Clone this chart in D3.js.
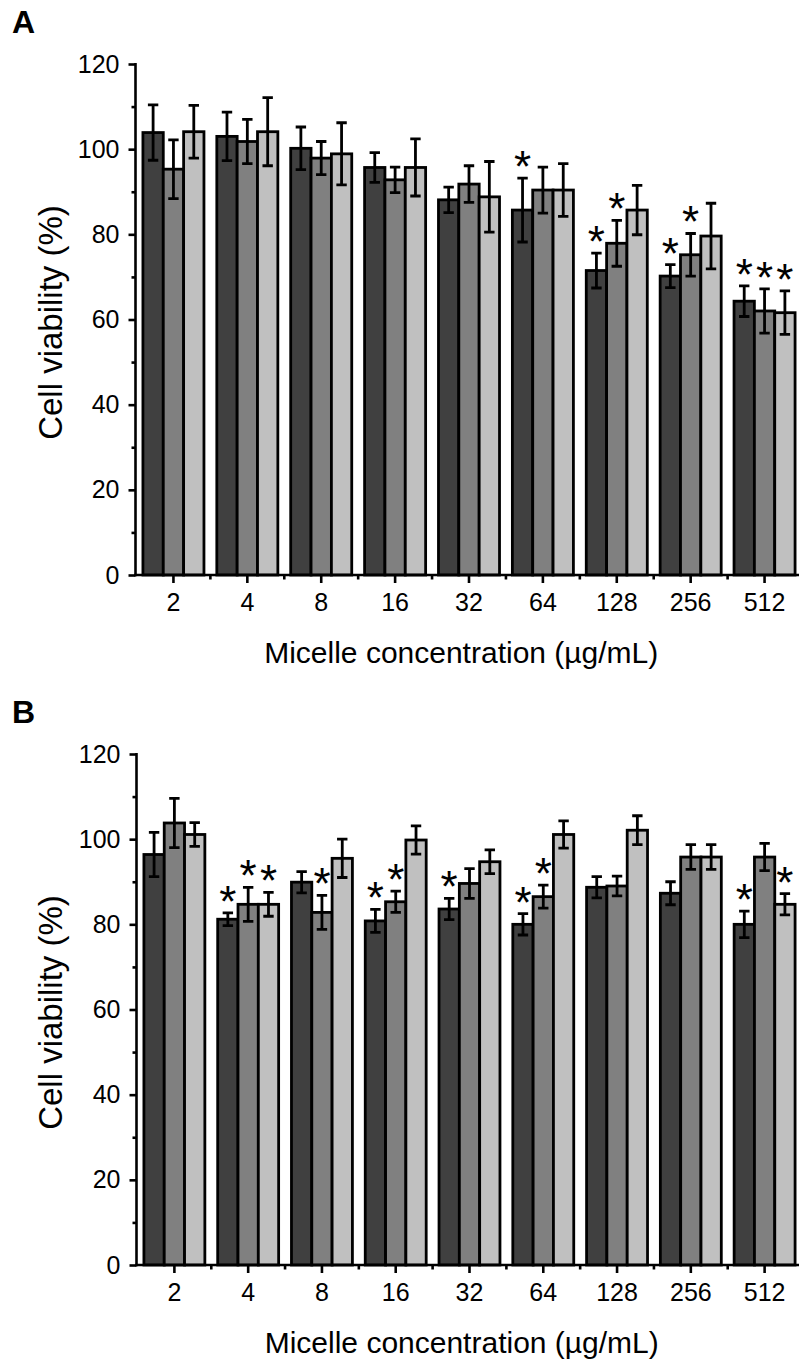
<!DOCTYPE html>
<html>
<head>
<meta charset="utf-8">
<script src="https://cdn.jsdelivr.net/npm/d3@7"></script>
<style>
  html, body { margin: 0; padding: 0; background: #fff; }
  svg { display: block; }
  text { font-family: "Liberation Sans", Arial, Helvetica, sans-serif; fill: #000; }
</style>
</head>
<body>
<svg id="chart" width="799" height="1364"></svg>
<script>
// Micelle concentrations (µg/mL) on the x axis
const categories = ["2", "4", "8", "16", "32", "64", "128", "256", "512"];
const seriesKeys = ["s1", "s2", "s3"];
const seriesColors = ["#404040", "#808080", "#c0c0c0"];
const yTicks = [0, 20, 40, 60, 80, 100, 120];
const yMinorTicks = [10, 30, 50, 70, 90, 110];

// Panel A: cell viability (%) mean and SD for the three formulations
const aMean1 = [103.9, 103.0, 100.2, 95.7, 88.1, 85.7, 71.5, 70.2, 64.3];
const aMean2 = [95.3, 101.8, 97.9, 92.8, 91.8, 90.4, 77.9, 75.2, 62.0];
const aMean3 = [104.1, 104.1, 98.9, 95.7, 88.8, 90.4, 85.7, 79.6, 61.6];
const aErr1 = [6.5, 5.7, 5.0, 3.5, 3.0, 7.5, 4.1, 2.7, 3.6];
const aErr2 = [6.9, 5.2, 3.9, 3.0, 4.3, 5.4, 5.4, 5.0, 5.2];
const aErr3 = [6.2, 8.0, 7.3, 6.7, 8.3, 6.2, 5.8, 7.7, 5.1];
const aSig1 = [0, 0, 0, 0, 0, 1, 1, 1, 1];
const aSig2 = [0, 0, 0, 0, 0, 0, 1, 1, 1];
const aSig3 = [0, 0, 0, 0, 0, 0, 0, 0, 1];

// Panel B
const bMean1 = [96.4, 81.2, 89.9, 80.8, 83.6, 80.0, 88.7, 87.3, 80.0];
const bMean2 = [103.8, 84.7, 82.8, 85.3, 89.6, 86.5, 89.0, 95.8, 95.8];
const bMean3 = [101.1, 84.7, 95.5, 99.8, 94.7, 101.1, 102.1, 95.8, 84.7];
const bErr1 = [5.2, 1.5, 2.5, 2.7, 2.5, 2.5, 2.5, 2.7, 3.1];
const bErr2 = [5.8, 4.0, 4.0, 2.5, 3.5, 2.7, 2.3, 2.9, 3.2];
const bErr3 = [2.8, 2.8, 4.5, 3.3, 2.8, 3.2, 3.4, 2.9, 2.5];
const bSig1 = [0, 1, 0, 1, 1, 1, 0, 0, 1];
const bSig2 = [0, 1, 1, 1, 0, 1, 0, 0, 0];
const bSig3 = [0, 1, 0, 0, 0, 0, 0, 0, 1];

const xTitle = "Micelle concentration (µg/mL)";
const yTitle = "Cell viability (%)";

const svg = d3.select("#chart");

const panels = [
  { letter: "A", top: 64, bottom: 575, axisX: 135.5, letterY: 33,
    means: [aMean1, aMean2, aMean3], errs: [aErr1, aErr2, aErr3], sig: [aSig1, aSig2, aSig3] },
  { letter: "B", top: 754, bottom: 1265, axisX: 136.5, letterY: 723,
    means: [bMean1, bMean2, bMean3], errs: [bErr1, bErr2, bErr3], sig: [bSig1, bSig2, bSig3] }
];

panels.forEach(p => {
  const g = svg.append("g");

  const y = d3.scaleLinear().domain([0, 120]).range([p.bottom, p.top]);
  const x0 = d3.scaleBand().domain(categories).range([p.axisX + 1, 801.5]).padding(0);
  const groupW = x0.bandwidth() * 0.826;
  const x1 = d3.scaleBand().domain(seriesKeys).range([0, groupW]).padding(0);
  const groupStart = c => x0(c) + (x0.bandwidth() - groupW) / 2;

  // rows: one per bar
  const rows = [];
  categories.forEach((c, i) => {
    seriesKeys.forEach((k, s) => {
      rows.push({ c, k, s, v: p.means[s][i], e: p.errs[s][i], sig: p.sig[s][i] });
    });
  });

  // bars
  g.append("g").selectAll("rect").data(rows).join("rect")
    .attr("x", d => groupStart(d.c) + x1(d.k))
    .attr("y", d => y(d.v))
    .attr("width", x1.bandwidth())
    .attr("height", d => y(0) - y(d.v))
    .attr("fill", d => seriesColors[d.s])
    .attr("stroke", "#000")
    .attr("stroke-width", 2.8);

  // error bars
  const cx = d => groupStart(d.c) + x1(d.k) + x1.bandwidth() / 2;
  const capW = 5.2;
  const eb = g.append("g").attr("stroke", "#000").attr("stroke-width", 2.8).attr("fill", "none");
  eb.selectAll("path").data(rows).join("path")
    .attr("d", d => {
      const xc = cx(d), yt = y(d.v + d.e), yb = y(d.v - d.e);
      return `M${xc - capW},${yt}H${xc + capW}M${xc},${yt}V${yb}M${xc - capW},${yb}H${xc + capW}`;
    });

  // significance markers
  g.append("g").selectAll("text").data(rows.filter(d => d.sig)).join("text")
    .attr("x", cx)
    .attr("y", d => y(d.v + d.e) + 4)
    .attr("text-anchor", "middle")
    .style("font-size", "44px")
    .text("*");

  // y axis: major and minor ticks
  const yAxis = d3.axisLeft(y).tickValues(yTicks).tickSize(7).tickPadding(9).tickFormat(d3.format("d"));
  const ya = g.append("g").attr("transform", `translate(${p.axisX},0)`).call(yAxis);
  const yMinor = d3.axisLeft(y).tickValues(yMinorTicks).tickSize(4).tickFormat("");
  const ym = g.append("g").attr("transform", `translate(${p.axisX},0)`).call(yMinor);
  [ya, ym].forEach(a => {
    a.select(".domain").remove();
    a.selectAll("line").attr("stroke", "#000").attr("stroke-width", 2.6);
  });
  ya.selectAll("text").style("font-size", "25px").attr("fill", "#000");
  g.append("line")
    .attr("x1", p.axisX).attr("x2", p.axisX)
    .attr("y1", y(120) - 1).attr("y2", y(0) + 1.3)
    .attr("stroke", "#000").attr("stroke-width", 2.6);

  // x axis: ticks at category centres, minor ticks at band boundaries
  const xAxis = d3.axisBottom(x0).tickSize(8).tickPadding(10);
  const xa = g.append("g").attr("transform", `translate(0,${p.bottom})`).call(xAxis);
  xa.select(".domain").remove();
  xa.selectAll("line").attr("stroke", "#000").attr("stroke-width", 2.6);
  xa.selectAll("text").style("font-size", "25px").attr("fill", "#000");
  g.append("g").selectAll("line").data(categories).join("line")
    .attr("x1", c => x0(c) + x0.bandwidth()).attr("x2", c => x0(c) + x0.bandwidth())
    .attr("y1", p.bottom).attr("y2", p.bottom + 4.5)
    .attr("stroke", "#000").attr("stroke-width", 2.6);
  g.append("line")
    .attr("x1", p.axisX - 1.3).attr("x2", 799)
    .attr("y1", p.bottom).attr("y2", p.bottom)
    .attr("stroke", "#000").attr("stroke-width", 2.6);

  // titles
  g.append("text")
    .attr("x", (p.axisX + 799) / 2 - 6)
    .attr("y", p.bottom + 88)
    .attr("text-anchor", "middle")
    .style("font-size", "30px")
    .text(xTitle);
  g.append("text")
    .attr("transform", `translate(62,${(p.top + p.bottom) / 2 + 3}) rotate(-90)`)
    .attr("text-anchor", "middle")
    .style("font-size", "33px")
    .text(yTitle);
  g.append("text")
    .attr("x", 12)
    .attr("y", p.letterY)
    .style("font-size", "32px")
    .style("font-weight", "bold")
    .text(p.letter);
});
</script>
</body>
</html>
